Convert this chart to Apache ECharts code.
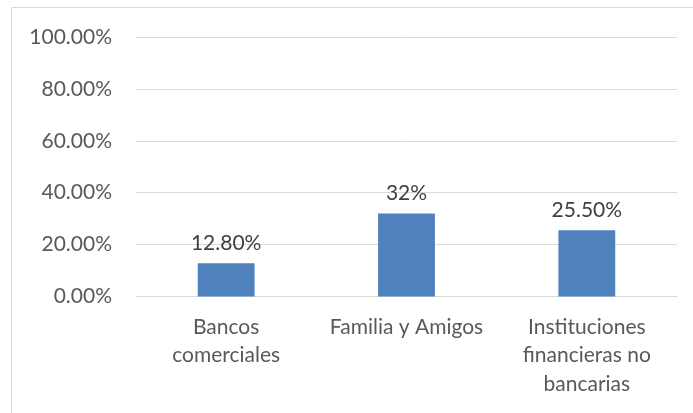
<!DOCTYPE html>
<html>
<head>
<meta charset="utf-8">
<script src="https://cdn.jsdelivr.net/npm/echarts@6/dist/echarts.min.js"></script>
<style>
  html, body { margin: 0; padding: 0; background: #fff; }
  #chart { width: 693px; height: 413px; }
</style>
</head>
<body>
<div id="chart"></div>
<script>
// categories and values (fractions)
const categories = ["Bancos\ncomerciales", "Familia y Amigos", "Instituciones\nfinancieras no\nbancarias"];
const values = [0.128, 0.32, 0.255];
const valueLabels = ["12.80%", "32%", "25.50%"];

const chart = echarts.init(document.getElementById("chart"));
const font = "Lato, 'Open Sans', sans-serif";

const option = {
  animation: false,
  backgroundColor: "#fff",
  graphic: [
    {
      type: "rect",
      shape: { x: 11.5, y: 7.5, width: 700, height: 420 },
      style: { fill: "none", stroke: "#d9d9d9", lineWidth: 1 },
      z: -1,
    },
  ],
  grid: { left: 136, right: 16, top: 37, bottom: 116.5 },
  xAxis: {
    type: "category",
    data: categories,
    axisLine: { lineStyle: { color: "#d9d9d9", width: 1 } },
    axisTick: { show: false },
    axisLabel: {
      color: "#595959",
      fontFamily: font,
      fontSize: 21,
      lineHeight: 28.5,
      margin: 16,
      interval: 0,
    },
  },
  yAxis: {
    type: "value",
    min: 0,
    max: 1,
    interval: 0.2,
    axisLine: { show: false },
    axisTick: { show: false },
    splitLine: { lineStyle: { color: "#d9d9d9", width: 1 } },
    axisLabel: {
      color: "#595959",
      fontFamily: font,
      fontSize: 21,
      margin: 24,
      formatter: (v) => (v * 100).toFixed(2) + "%",
    },
  },
  series: [
    {
      type: "bar",
      data: values,
      barWidth: "31.5%",
      itemStyle: { color: "#4f81bd" },
      label: {
        show: true,
        position: "top",
        distance: 10,
        color: "#404040",
        fontFamily: font,
        fontSize: 21,
        formatter: (p) => valueLabels[p.dataIndex],
      },
    },
  ],
};
chart.setOption(option);
</script>
</body>
</html>
